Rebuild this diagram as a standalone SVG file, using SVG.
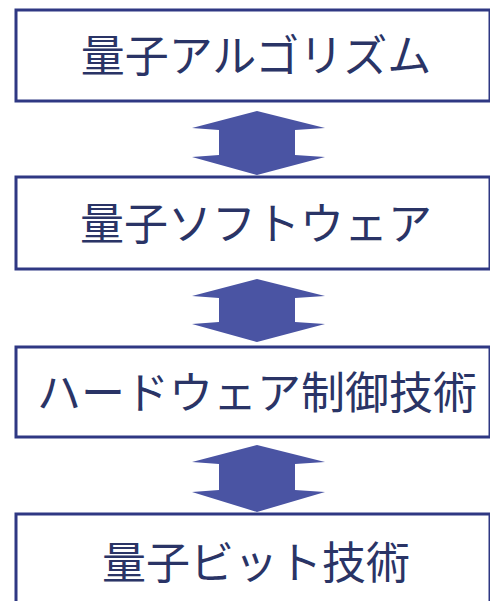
<svg xmlns="http://www.w3.org/2000/svg" width="490" height="601" viewBox="0 0 490 601">
<style>
.box{fill:#ffffff;stroke:#2f3883;stroke-width:3}
.lbl{font-family:"Noto Sans CJK JP","Noto Sans CJK SC",sans-serif;font-size:44px;fill:#2a3466;text-anchor:middle}
.arr{fill:#4a54a3}
</style>
<rect x="0" y="0" width="490" height="601" fill="#ffffff"/>
<g id="connectors">
<path class="arr" d="M257,111 L325,128 L295,130 L295,155 L325,157 L257,175 L192,157 L219,155 L219,130 L192,128 Z"/>
<path class="arr" d="M257,279 L325,296 L295,298 L295,322 L325,324 L257,342 L192,324 L219,322 L219,298 L192,296 Z"/>
<path class="arr" d="M257,445 L325,462 L295,464 L295,490 L325,492 L257,512 L192,492 L219,490 L219,464 L192,462 Z"/>
</g>
<g id="node1">
<rect class="box" x="16" y="10" width="474" height="91"/>
<text class="lbl" x="256" y="72">量子アルゴリズム</text>
</g>
<g id="node2">
<rect class="box" x="16" y="177" width="474" height="92"/>
<text class="lbl" x="256" y="240">量子ソフトウェア</text>
</g>
<g id="node3">
<rect class="box" x="16" y="347" width="474" height="90"/>
<text class="lbl" x="257" y="409">ハードウェア制御技術</text>
</g>
<g id="node4">
<rect class="box" x="16" y="514" width="474" height="95"/>
<text class="lbl" x="256" y="579">量子ビット技術</text>
</g>
</svg>
